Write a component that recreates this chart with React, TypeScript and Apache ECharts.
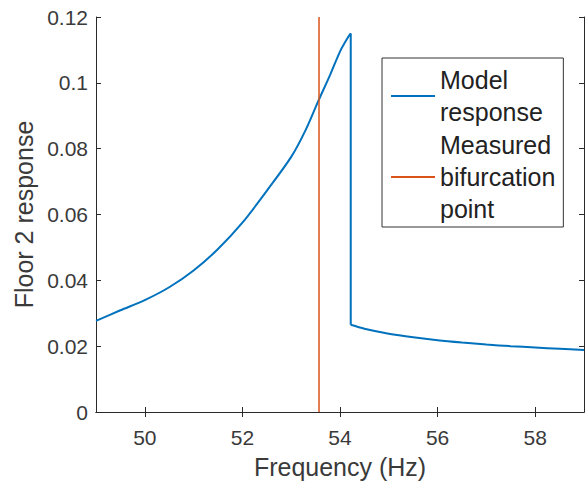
import React, { useEffect, useRef } from "react";
import * as echarts from "echarts";

const freq = [49, 49.5, 50, 50.5, 51, 51.5, 52, 52.5, 53, 53.3, 53.55, 53.8, 54.0, 54.15, 54.22, 54.22, 54.5, 55, 55.5, 56, 56.5, 57, 57.5, 58, 58.5, 59];
const response = [0.0277, 0.0309, 0.034, 0.0379, 0.043, 0.0495, 0.0575, 0.0672, 0.0775, 0.0858, 0.0943, 0.1025, 0.1095, 0.1135, 0.115, 0.0265, 0.0253, 0.0238, 0.0227, 0.0218, 0.0211, 0.0205, 0.02, 0.0196, 0.0192, 0.0188];
const bifurcationFreq = 53.57;
const bifurcationSpan = [0, 0.12];
const xTicks = [50, 52, 54, 56, 58];
const seriesNames = ["Model response", "Measured bifurcation point"];
const legendLabels = ["Model\nresponse", "Measured\nbifurcation\npoint"];

const FONT = "Liberation Sans, Arial, Helvetica, sans-serif";
const TXT = "#3a3a3a";
const AX = "#2a2a2a";
const BLUE = "#0072BD";

export default function App() {
  const ref = useRef<HTMLDivElement>(null);
  useEffect(() => {
    if (!ref.current) return;
    const chart = echarts.init(ref.current, undefined, { renderer: "svg" });
    const axisLine = { show: true, lineStyle: { color: AX, width: 1 } };
    const pts = freq.map((f, i) => [f, response[i]]);
    // split at the jump (the frequency value repeats)
    const jump = freq.findIndex((f, i) => i > 0 && f === freq[i - 1]);
    const rising = pts.slice(0, jump);
    const drop = pts.slice(jump - 1, jump + 1);
    const falling = pts.slice(jump);
    const blueSeries = (data: number[][], smooth: number | boolean) => ({
      name: seriesNames[0],
      type: "line",
      data,
      showSymbol: false,
      symbol: "none",
      smooth,
      lineStyle: { color: BLUE, width: 2 },
      itemStyle: { color: BLUE },
    });
    chart.setOption({
      animation: false,
      backgroundColor: "#ffffff",
      grid: { left: 96, right: 3, top: 17, bottom: 69, containLabel: false },
      legend: {
        orient: "vertical",
        left: 382,
        top: 58,
        padding: [6, 8, 2, 9],
        itemGap: 1,
        itemWidth: 44,
        itemHeight: 2,
        icon: "rect",
        borderColor: "#333333",
        borderWidth: 1,
        backgroundColor: "#ffffff",
        data: seriesNames,
        formatter: (name: string) => legendLabels[seriesNames.indexOf(name)],
        textStyle: { fontFamily: FONT, fontSize: 25, color: "#222222", lineHeight: 32 },
      },
      xAxis: [
        {
          type: "value",
          min: 49,
          max: 59,
          name: "Frequency (Hz)",
          nameLocation: "middle",
          nameGap: 42,
          nameTextStyle: { fontFamily: FONT, fontSize: 25, color: TXT },
          axisLine,
          axisTick: { show: true, inside: true, length: 5, lineStyle: { color: AX }, customValues: xTicks },
          axisLabel: { fontFamily: FONT, fontSize: 21, color: TXT, margin: 15, customValues: xTicks },
          splitLine: { show: false },
        },
        {
          type: "value",
          position: "top",
          min: 49,
          max: 59,
          axisLine,
          axisTick: { show: true, inside: true, length: 5, lineStyle: { color: AX }, customValues: xTicks },
          axisLabel: { show: false },
          splitLine: { show: false },
        },
      ],
      yAxis: [
        {
          type: "value",
          min: 0,
          max: 0.12,
          interval: 0.02,
          name: "Floor 2 response",
          nameLocation: "middle",
          nameGap: 59,
          nameTextStyle: { fontFamily: FONT, fontSize: 25, color: TXT },
          axisLine,
          axisTick: { show: true, inside: true, length: 5, lineStyle: { color: AX } },
          axisLabel: { fontFamily: FONT, fontSize: 21, color: TXT, margin: 8 },
          splitLine: { show: false },
        },
        {
          type: "value",
          position: "right",
          min: 0,
          max: 0.12,
          interval: 0.02,
          axisLine,
          axisTick: { show: true, inside: true, length: 5, lineStyle: { color: AX } },
          axisLabel: { show: false },
          splitLine: { show: false },
        },
      ],
      series: [
        blueSeries(rising, 0.3),
        blueSeries(drop, false),
        blueSeries(falling, 0.3),
        {
          name: seriesNames[1],
          type: "line",
          data: bifurcationSpan.map((v) => [bifurcationFreq, v]),
          showSymbol: false,
          symbol: "none",
          lineStyle: { color: "#D95319", width: 1.5 },
          itemStyle: { color: "#D95319" },
        },
      ],
    });
    return () => chart.dispose();
  }, []);
  return <div ref={ref} style={{ position: "fixed", left: 0, top: 0, width: 587, height: 484 }} />;
}
